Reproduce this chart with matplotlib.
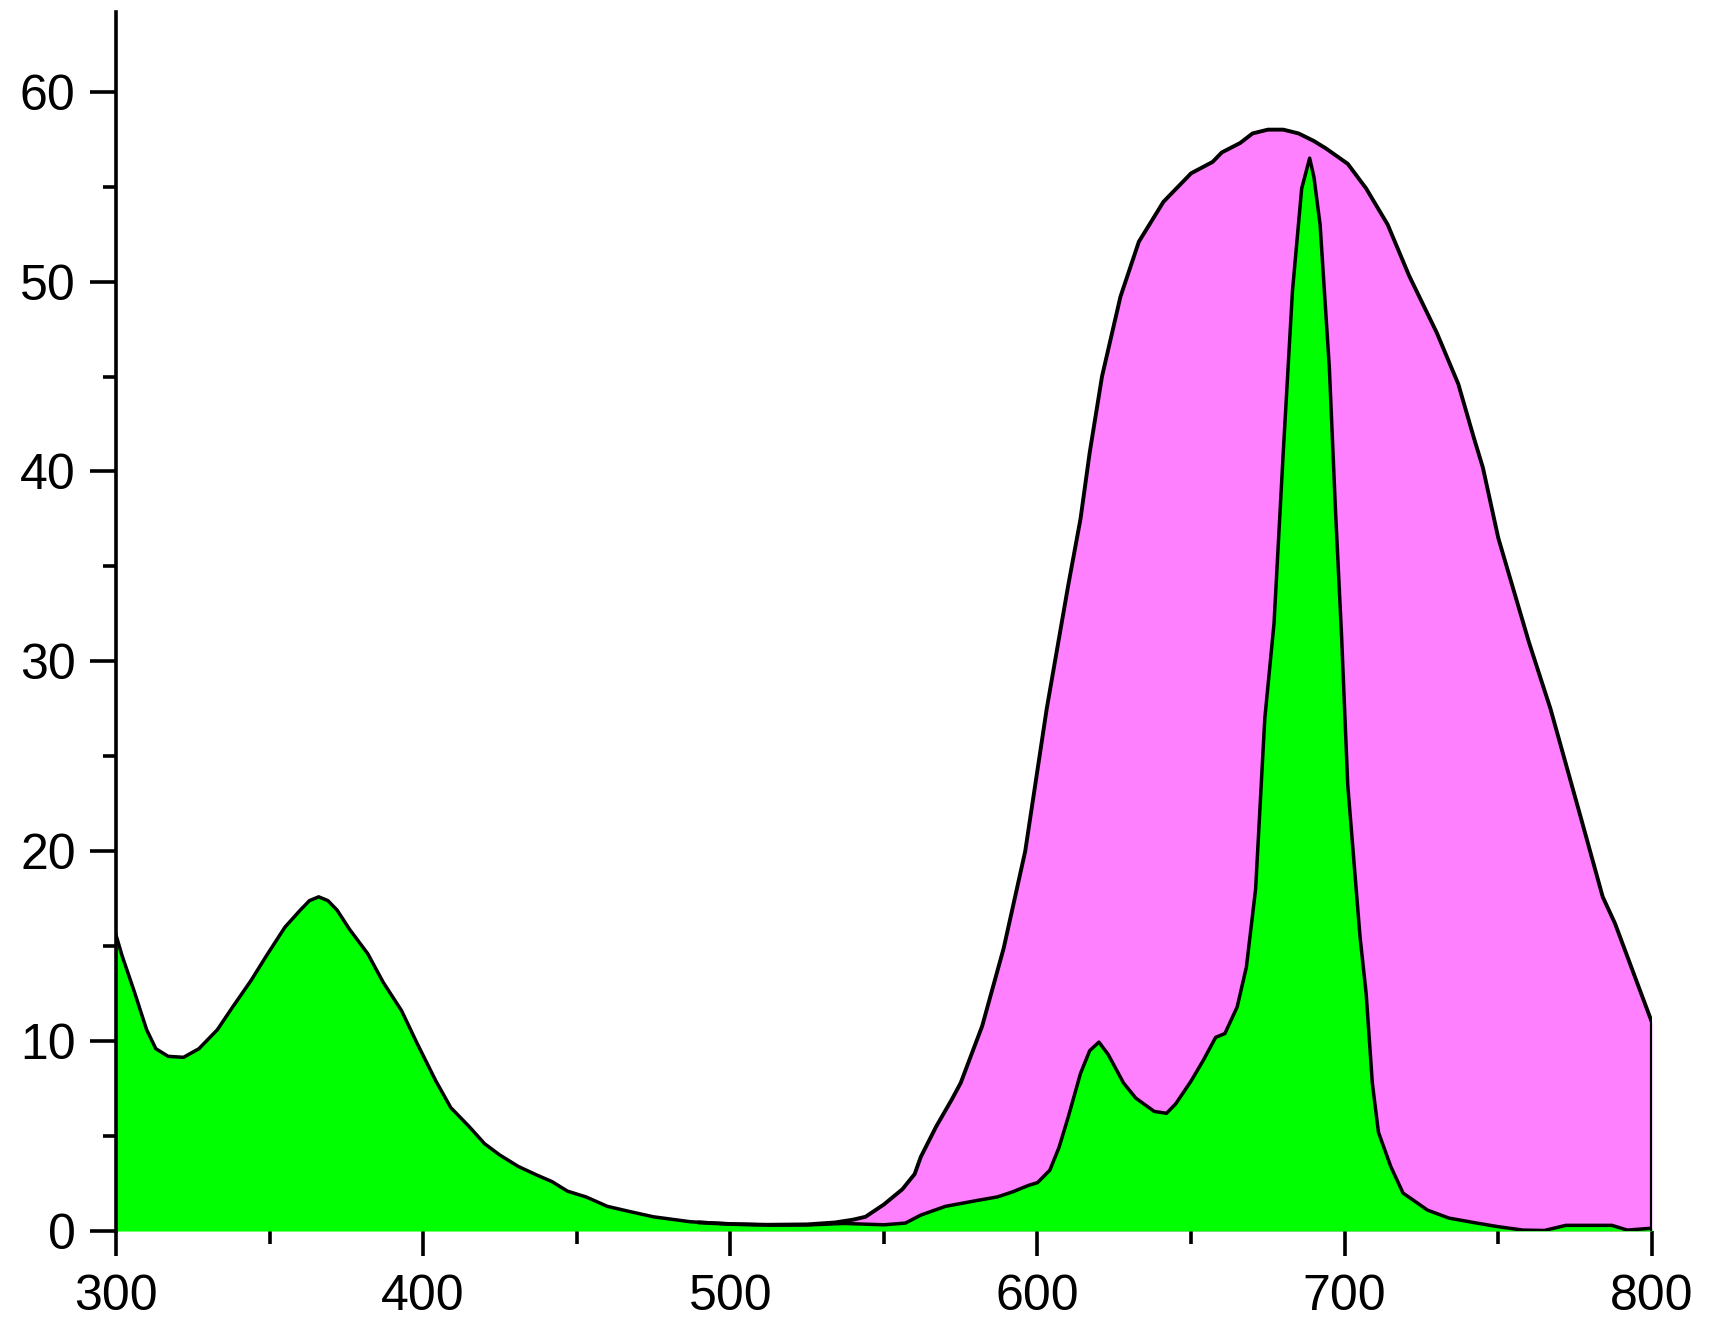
import matplotlib
matplotlib.use("Agg")
import matplotlib.pyplot as plt
import numpy as np

# green spectrum (x in nm, y in arb. units)
green_x = [300, 302, 306, 310, 313, 317, 322, 327, 333, 338, 344, 349, 355, 360,
           363, 366, 369, 372, 376, 382, 387, 393, 398, 404, 409, 415, 420, 425, 431,
           437, 442, 447, 453, 460, 468, 475, 487, 500, 512, 525, 537, 550, 557,
           562, 570, 580, 587, 592, 597, 600, 604, 607, 610, 614, 617, 620, 623,
           628, 632, 638, 642, 645, 650, 654, 658, 661, 665, 668, 671, 674, 677,
           680, 683, 686, 688.6, 690, 692, 695, 697, 699, 701, 703, 705, 707, 709,
           711, 715, 719, 727, 734, 743, 750, 758, 765, 772, 787, 792, 800]
green_y = [15.6, 14.5, 12.6, 10.6, 9.6, 9.2, 9.15, 9.6, 10.6, 11.8, 13.2, 14.5, 16.0, 16.9,
           17.4, 17.6, 17.4, 16.9, 15.9, 14.6, 13.1, 11.6, 9.9, 7.95, 6.5, 5.5, 4.6, 4.0, 3.4,
           2.95, 2.6, 2.1, 1.8, 1.3, 1.0, 0.75, 0.49, 0.37, 0.32, 0.32, 0.40, 0.33, 0.42,
           0.84, 1.3, 1.6, 1.8, 2.07, 2.4, 2.55, 3.2, 4.4, 6.0, 8.3, 9.5, 9.95, 9.3,
           7.8, 7.0, 6.3, 6.2, 6.7, 7.9, 9.0, 10.2, 10.4, 11.8, 13.9, 18.0, 27.0, 32.0,
           41.0, 49.5, 54.9, 56.5, 55.5, 53.0, 45.5, 38.0, 31.3, 23.5, 19.5, 15.5, 12.5, 7.8,
           5.2, 3.4, 2.0, 1.1, 0.68, 0.42, 0.23, 0.05, 0.03, 0.3, 0.3, 0.05, 0.15]

# pink spectrum
pink_x = [490, 500, 512, 525, 534, 540, 544, 550, 556, 560, 562, 567, 572, 575,
          582, 589, 596, 603, 610, 614, 617, 621, 627, 633, 641, 650, 657, 660,
          666, 670, 675, 680, 685, 690, 694, 701, 707, 714, 721, 730, 737, 742,
          745, 750, 756, 760, 767, 777, 784, 788, 794, 800]
pink_y = [0.45, 0.37, 0.33, 0.35, 0.45, 0.6, 0.75, 1.4, 2.2, 3.0, 3.9, 5.5, 6.9, 7.8,
          10.8, 14.9, 20.0, 27.5, 34.0, 37.5, 41.0, 45.0, 49.2, 52.1, 54.2, 55.7, 56.3, 56.8,
          57.3, 57.8, 58.0, 58.0, 57.8, 57.4, 57.0, 56.2, 54.9, 53.0, 50.3, 47.3, 44.6, 41.8,
          40.2, 36.5, 33.2, 31.0, 27.5, 21.7, 17.6, 16.2, 13.6, 11.0]

x_ticks = [300, 400, 500, 600, 700, 800]
y_ticks = [0, 10, 20, 30, 40, 50, 60]

plt.rcParams['font.family'] = ['Liberation Sans', 'DejaVu Sans']

fig = plt.figure(figsize=(17.1, 13.23), dpi=100)
ax = fig.add_axes([0.0678, 0.0695, 0.8982, 0.9215])

ax.fill_between(pink_x, pink_y, 0, color='#ff80ff', linewidth=0, zorder=1)
ax.fill_between(green_x, green_y, 0, color='#00ff00', linewidth=0, zorder=2)
# outline, with the vertical drop at the right end of the pink curve
ax.plot(pink_x + [pink_x[-1]], pink_y + [0], color='black', lw=2.8, zorder=3,
        solid_joinstyle='round')
ax.plot(green_x, green_y, color='black', lw=2.5, zorder=3, solid_joinstyle='round')

ax.set_xlim(300, 800)
ax.set_ylim(0, 64.2)
ax.set_xticks(x_ticks)
ax.set_yticks(y_ticks)
ax.set_xticks(np.arange(350, 800, 100), minor=True)
ax.set_yticks(np.arange(5, 64, 10), minor=True)

for s in ['top', 'right', 'bottom']:
    ax.spines[s].set_visible(False)
ax.spines['left'].set_linewidth(2.6)
ax.spines['left'].set_zorder(4)

ax.tick_params(axis='both', which='major', direction='out', width=2.6,
               labelsize=36, colors='black')
ax.tick_params(axis='both', which='minor', direction='out', width=2.6)
ax.tick_params(axis='y', which='major', length=19, pad=10)
ax.tick_params(axis='y', which='minor', length=9.5)
ax.tick_params(axis='x', which='major', length=18, pad=13)
ax.tick_params(axis='x', which='minor', length=9)

fig.savefig('out.png', dpi=100)
